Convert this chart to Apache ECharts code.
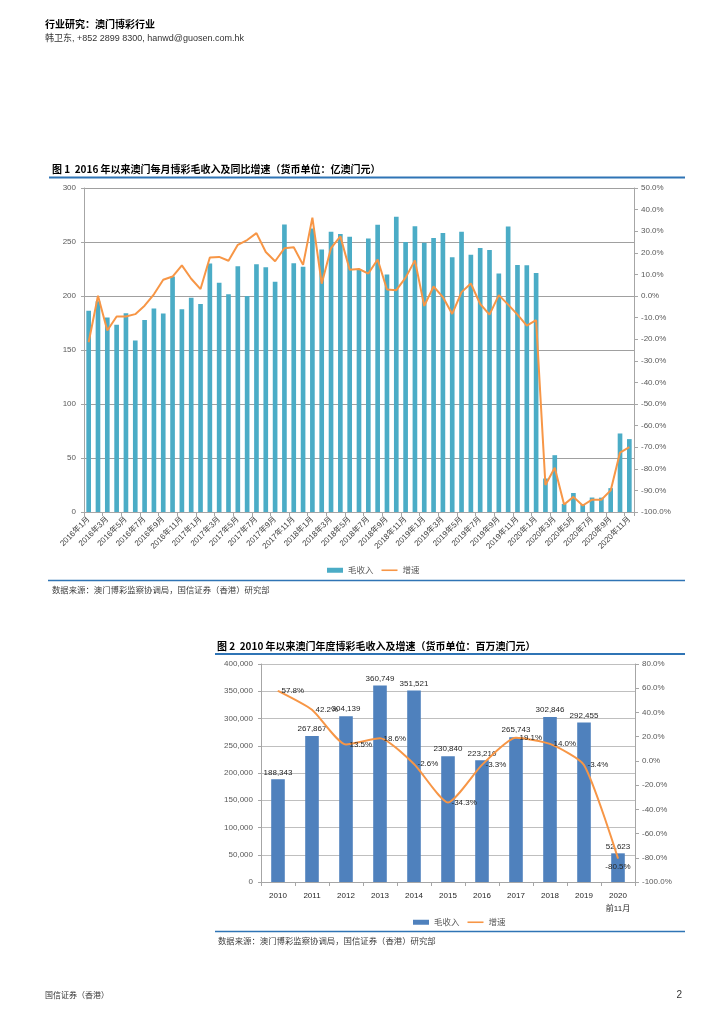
<!DOCTYPE html>
<html><head><meta charset="utf-8">
<script src="https://cdn.jsdelivr.net/npm/echarts@6/dist/echarts.min.js"></script>
<style>html,body{margin:0;padding:0;background:#fff}#c{width:724px;height:1024px}</style>
</head><body><div id="c"></div>
<script>
// ---------- Chart 1 data: monthly GGR (亿澳门元) and YoY growth (%) ----------
const monthLabels = [
  '2016年1月','2016年2月','2016年3月','2016年4月','2016年5月','2016年6月','2016年7月','2016年8月','2016年9月','2016年10月','2016年11月','2016年12月',
  '2017年1月','2017年2月','2017年3月','2017年4月','2017年5月','2017年6月','2017年7月','2017年8月','2017年9月','2017年10月','2017年11月','2017年12月',
  '2018年1月','2018年2月','2018年3月','2018年4月','2018年5月','2018年6月','2018年7月','2018年8月','2018年9月','2018年10月','2018年11月','2018年12月',
  '2019年1月','2019年2月','2019年3月','2019年4月','2019年5月','2019年6月','2019年7月','2019年8月','2019年9月','2019年10月','2019年11月','2019年12月',
  '2020年1月','2020年2月','2020年3月','2020年4月','2020年5月','2020年6月','2020年7月','2020年8月','2020年9月','2020年10月','2020年11月'
];
const monthlyRevenue = [
  186.4, 195.2, 180.0, 173.4, 184.0, 158.8, 177.8, 188.4, 183.8, 218.0, 187.7, 198.4,
  192.6, 230.0, 212.3, 201.7, 227.6, 199.9, 229.5, 226.7, 213.3, 266.3, 230.4, 227.0,
  262.6, 243.0, 259.5, 257.3, 254.9, 224.9, 253.3, 266.0, 220.0, 273.3, 249.9, 264.6,
  249.4, 253.7, 258.4, 235.9, 259.5, 238.1, 244.5, 242.6, 220.8, 264.4, 228.8, 228.4,
  221.3, 31.0, 52.6, 7.5, 17.6, 7.2, 13.4, 13.3, 22.1, 72.7, 67.5
];
const monthlyGrowth = [
  -21.4, 0.1, -16.0, -9.5, -9.5, -8.4, -4.5, 0.8, 7.5, 9.0, 14.2, 8.0,
  3.2, 17.8, 18.1, 16.3, 23.7, 25.9, 29.1, 20.4, 16.1, 22.1, 22.6, 14.4,
  36.3, 5.7, 22.2, 27.6, 12.2, 12.5, 10.4, 16.9, 3.0, 2.7, 8.5, 16.5,
  -4.6, 4.4, -0.5, -8.3, 1.8, 5.8, -3.7, -8.6, 0.4, -4.0, -8.6, -13.7,
  -11.2, -87.5, -79.5, -96.5, -93.0, -97.0, -94.3, -94.3, -90.0, -72.5, -70.0
];
// ---------- Chart 2 data: annual GGR (百万澳门元) and growth (%) ----------
const yearLabels = ['2010','2011','2012','2013','2014','2015','2016','2017','2018','2019','2020\n前11月'];
const annualRevenue = [188343, 267867, 304139, 360749, 351521, 230840, 223210, 265743, 302846, 292455, 52623];
const annualGrowth = [57.8, 42.2, 13.5, 18.6, -2.6, -34.3, -3.3, 19.1, 14.0, -3.4, -80.5];

const NUM = "'Liberation Sans','Noto Sans CJK SC',sans-serif";
const CJK = "'Noto Sans CJK SC',sans-serif";
const AX = '#595959';
const BLUE = '#2f74b5';
const LINE_ICON = 'path://M0,9 L20,9 L20,11 L0,11 Z';

function txt(x, y, text, size, opts) {
  opts = opts || {};
  return {type: 'text', x: x, y: y, silent: true, style: {
    text: text, fontSize: size, fontFamily: opts.family || CJK, fontWeight: opts.weight || 'normal',
    fill: opts.fill || '#000', verticalAlign: 'middle', align: opts.align || 'left'
  }};
}
function hline(x1, x2, y, w) {
  return {type: 'line', silent: true, shape: {x1: x1, y1: y, x2: x2, y2: y}, style: {stroke: BLUE, lineWidth: w}};
}

const chart = echarts.init(document.getElementById('c'), null, {renderer: 'canvas'});
chart.setOption({
  animation: false,
  backgroundColor: '#fff',
  textStyle: {fontFamily: NUM},
  grid: [
    {left: 84, top: 188, width: 550, height: 324},
    {left: 261, top: 664, width: 374, height: 218}
  ],
  xAxis: [
    {type: 'category', gridIndex: 0, data: monthLabels, boundaryGap: true,
     axisLine: {lineStyle: {color: '#a6a6a6'}},
     axisTick: {show: true, interval: 1, length: 4, lineStyle: {color: '#a6a6a6'}},
     axisLabel: {interval: 1, rotate: 45, fontSize: 8, color: '#404040', margin: 6, fontFamily: NUM}},
    {type: 'category', gridIndex: 1, data: yearLabels, boundaryGap: true,
     axisLine: {lineStyle: {color: '#a6a6a6'}},
     axisTick: {show: true, length: 4, lineStyle: {color: '#a6a6a6'}},
     axisLabel: {fontSize: 8, color: '#262626', margin: 7, lineHeight: 13, fontFamily: NUM}}
  ],
  yAxis: [
    {type: 'value', gridIndex: 0, min: 0, max: 300, interval: 50,
     axisLine: {show: true, lineStyle: {color: '#a6a6a6'}},
     axisTick: {show: true, length: 3, lineStyle: {color: '#a6a6a6'}},
     splitLine: {lineStyle: {color: '#a0a0a0'}},
     axisLabel: {fontSize: 8, color: AX, margin: 8}},
    {type: 'value', gridIndex: 0, min: -100, max: 50, interval: 10, position: 'right',
     axisLine: {show: true, lineStyle: {color: '#a6a6a6'}},
     axisTick: {show: true, length: 4, lineStyle: {color: '#a6a6a6'}},
     splitLine: {show: false},
     axisLabel: {fontSize: 8, color: AX, margin: 7, formatter: v => v.toFixed(1) + '%'}},
    {type: 'value', gridIndex: 1, min: 0, max: 400000, interval: 50000,
     axisLine: {show: true, lineStyle: {color: '#a6a6a6'}},
     axisTick: {show: true, length: 3, lineStyle: {color: '#a6a6a6'}},
     splitLine: {lineStyle: {color: '#bfbfbf'}},
     axisLabel: {fontSize: 8, color: AX, margin: 8, formatter: v => v.toLocaleString('en-US')}},
    {type: 'value', gridIndex: 1, min: -100, max: 80, interval: 20, position: 'right',
     axisLine: {show: true, lineStyle: {color: '#a6a6a6'}},
     axisTick: {show: true, length: 4, lineStyle: {color: '#a6a6a6'}},
     splitLine: {show: false},
     axisLabel: {fontSize: 8, color: AX, margin: 7, formatter: v => v.toFixed(1) + '%'}}
  ],
  legend: [
    {left: 322, top: 561, itemWidth: 16, itemHeight: 5, itemGap: 8,
     textStyle: {fontSize: 8.5, color: AX, fontFamily: CJK},
     data: [{name: '毛收入', icon: 'rect', itemStyle: {color: '#4bacc6'}},
            {name: '增速', icon: LINE_ICON, itemStyle: {color: '#f79646'}}]},
    {left: 408, top: 913, itemWidth: 16, itemHeight: 5, itemGap: 8,
     textStyle: {fontSize: 8.5, color: AX, fontFamily: CJK},
     data: [{name: '毛收入', icon: 'rect', itemStyle: {color: '#4f81bd'}},
            {name: '增速', icon: LINE_ICON, itemStyle: {color: '#f79646'}}]}
  ],
  series: [
    {name: '毛收入', type: 'bar', xAxisIndex: 0, yAxisIndex: 0, data: monthlyRevenue,
     barWidth: '50%', itemStyle: {color: '#4bacc6'}},
    {name: '增速', type: 'line', xAxisIndex: 0, yAxisIndex: 1, data: monthlyGrowth,
     symbol: 'none', lineStyle: {color: '#f79646', width: 2}, itemStyle: {color: '#f79646'}},
    {name: '毛收入', type: 'bar', xAxisIndex: 1, yAxisIndex: 2, data: annualRevenue,
     barWidth: '40%', itemStyle: {color: '#4f81bd'},
     label: {show: true, position: 'top', distance: 3, fontSize: 8, color: '#262626', fontFamily: NUM,
             formatter: p => p.value.toLocaleString('en-US')}},
    {name: '增速', type: 'line', xAxisIndex: 1, yAxisIndex: 3,
     data: annualGrowth.map((v, i) => i === annualGrowth.length - 1
       ? {value: v, label: {position: 'bottom', distance: 4}} : v),
     smooth: 0.2, symbol: 'circle', symbolSize: 1,
     lineStyle: {color: '#f79646', width: 2}, itemStyle: {color: '#f79646'},
     label: {show: true, position: 'right', distance: 3, fontSize: 8, color: '#262626', fontFamily: NUM,
             formatter: p => p.value.toFixed(1) + '%'}}
  ],
  graphic: [
    txt(45, 24, '行业研究：澳门博彩行业', 10, {weight: 'bold'}),
    txt(45, 39, '韩卫东, +852 2899 8300, hanwd@guosen.com.hk', 9, {fill: '#333', family: "'Liberation Sans','Noto Sans CJK SC',sans-serif"}),
    txt(52, 169, '图 1  2016 年以来澳门每月博彩毛收入及同比增速（货币单位：亿澳门元）', 10, {weight: 'bold'}),
    hline(49, 685, 177.5, 2),
    hline(48, 685, 580.5, 1.5),
    txt(52, 590, '数据来源：澳门博彩监察协调局，国信证券（香港）研究部', 8.4, {fill: '#404040'}),
    txt(217, 646, '图 2  2010 年以来澳门年度博彩毛收入及增速（货币单位：百万澳门元）', 10, {weight: 'bold'}),
    hline(215, 685, 654, 2),
    hline(215, 685, 931.5, 1.5),
    txt(218, 941, '数据来源：澳门博彩监察协调局，国信证券（香港）研究部', 8.4, {fill: '#404040'}),
    txt(45, 995, '国信证券（香港）', 8, {fill: '#333'}),
    txt(682, 995, '2', 10, {fill: '#333', family: NUM, align: 'right'})
  ]
});
</script>
</body></html>
